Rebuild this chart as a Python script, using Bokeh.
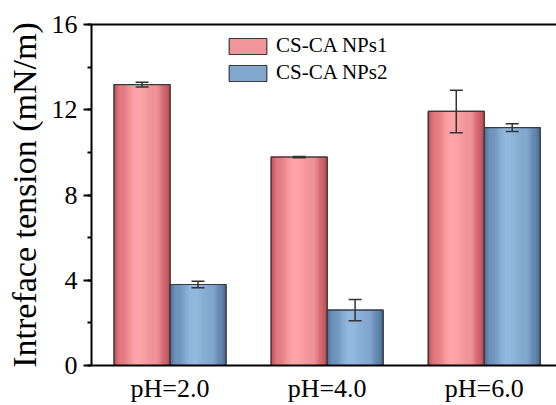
import numpy as np
from bokeh.plotting import figure
from bokeh.models import (ColumnDataSource, Range1d, FixedTicker, SingleIntervalTicker,
                          LinearAxis, Whisker, TeeHead, Legend, LegendItem)
from bokeh.embed import file_html
from bokeh.resources import INLINE

# ---------------- data ----------------
categories = ["pH=2.0", "pH=4.0", "pH=6.0"]
series_names = ["CS-CA NPs1", "CS-CA NPs2"]
nps1 = [13.18, 9.78, 11.92]
nps1_err = [0.11, 0.03, 1.0]
nps2 = [3.80, 2.60, 11.16]
nps2_err = [0.15, 0.50, 0.18]
y_ticks = [0, 4, 8, 12, 16]

FONT = "Liberation Serif"

# gradient stops (position across bar, colour)
pink_stops = [(0.0, (196, 82, 91)), (0.12, (226, 122, 128)), (0.42, (255, 166, 169)),
              (0.75, (240, 148, 154)), (0.92, (208, 102, 109)), (1.0, (184, 74, 82))]
blue_stops = [(0.0, (79, 114, 155)), (0.12, (111, 147, 188)), (0.42, (147, 185, 223)),
              (0.75, (131, 168, 207)), (0.92, (99, 134, 174)), (1.0, (74, 108, 148))]
mid_colours = ["#f0959a", "#82a8d0"]


def colour_at(t, stops):
    for (t0, c0), (t1, c1) in zip(stops[:-1], stops[1:]):
        if t0 <= t <= t1:
            f = (t - t0) / (t1 - t0)
            f = 0.5 - 0.5 * np.cos(np.pi * f)
            c = [int(round(a + (b - a) * f)) for a, b in zip(c0, c1)]
            return "#%02x%02x%02x" % tuple(c)
    return "#%02x%02x%02x" % stops[-1][1]


p = figure(width=556, height=405, output_backend="svg", toolbar_location=None,
           x_range=Range1d(0, 2.96), y_range=Range1d(0, 16),
           min_border_left=91, min_border_right=0, min_border_top=24, min_border_bottom=37)
p.outline_line_color = None
p.grid.visible = False
p.background_fill_color = "white"

bar_w = 0.356
offsets = [-0.178, 0.178]
N = 30

series = [(nps1, nps1_err, pink_stops), (nps2, nps2_err, blue_stops)]
base_renderers = []
sx, stop_, scol, swid = [], [], [], []
ox, otop = [], []
wx, wup, wlo = [], [], []
for si, (vals, errs, stops) in enumerate(series):
    xs = [ci + 0.5 + offsets[si] for ci in range(len(vals))]
    r = p.vbar(x=xs, top=vals, width=bar_w, bottom=0,
               fill_color=mid_colours[si], line_color="#3a3a3a", line_width=1.2)
    base_renderers.append(r)
    for ci, v in enumerate(vals):
        c = xs[ci]
        for k in range(N):
            t = (k + 0.5) / N
            sx.append(c - bar_w / 2 + t * bar_w)
            stop_.append(v)
            scol.append(colour_at(t, stops))
            swid.append(bar_w / N)
        ox.append(c)
        otop.append(v)
        wx.append(c)
        wup.append(v + errs[ci])
        wlo.append(v - errs[ci])

strips = ColumnDataSource(dict(x=sx, top=stop_, color=scol, w=swid))
p.vbar(x="x", top="top", width="w", bottom=0, source=strips,
       fill_color="color", line_color="color", line_width=0.8)

outl = ColumnDataSource(dict(x=ox, top=otop))
p.vbar(x="x", top="top", width=bar_w, bottom=0, source=outl,
       fill_color=None, line_color="#3a3a3a", line_width=1.2)

err_src = ColumnDataSource(dict(x=wx, upper=wup, lower=wlo))
wh = Whisker(source=err_src, base="x", upper="upper", lower="lower",
             line_color="#333333", line_width=1.5, level="overlay",
             upper_head=TeeHead(size=13, line_color="#333333", line_width=1.5),
             lower_head=TeeHead(size=13, line_color="#333333", line_width=1.5))
p.add_layout(wh)

legend = Legend(items=[LegendItem(label=series_names[i], renderers=[base_renderers[i]])
                       for i in range(2)],
                location=(133, 280), glyph_width=47, glyph_height=20, label_height=20,
                label_text_font=FONT, label_text_font_size="21px", label_standoff=5,
                label_text_color="black",
                spacing=2, padding=0, margin=0, border_line_color=None,
                background_fill_alpha=0)
p.add_layout(legend)

# axes
xa = p.xaxis[0]
xa.ticker = FixedTicker(ticks=[0.5, 1.5, 2.5])
xa.major_label_overrides = {0.5 + i: cat for i, cat in enumerate(categories)}
xa.major_tick_line_color = None
xa.minor_tick_line_color = None
xa.axis_line_width = 2
xa.major_label_text_font = FONT
xa.major_label_text_font_size = "26px"
xa.major_label_standoff = 2
xa.major_label_text_color = "black"

ya = p.yaxis[0]
ya.ticker = SingleIntervalTicker(interval=4, num_minor_ticks=2)
ya.axis_line_width = 2
ya.major_tick_line_width = 2
ya.minor_tick_line_width = 2
ya.major_tick_out = 8
ya.major_tick_in = 0
ya.minor_tick_out = 4
ya.minor_tick_in = 0
ya.major_label_text_font = FONT
ya.major_label_text_font_size = "26px"
ya.major_label_standoff = 6
ya.major_label_text_color = "black"
ya.axis_label = "Intreface tension (mN/m)"
ya.axis_label_text_font = FONT
ya.axis_label_text_font_size = "34px"
ya.axis_label_text_font_style = "normal"
ya.axis_label_standoff = 6
ya.axis_label_text_color = "black"

top_axis = LinearAxis(ticker=FixedTicker(ticks=[]), axis_line_width=2,
                      major_label_text_font_size="0px", major_tick_line_color=None,
                      minor_tick_line_color=None, major_label_standoff=0)
p.add_layout(top_axis, "above")

open("out.html", "w").write(file_html(p, INLINE))
